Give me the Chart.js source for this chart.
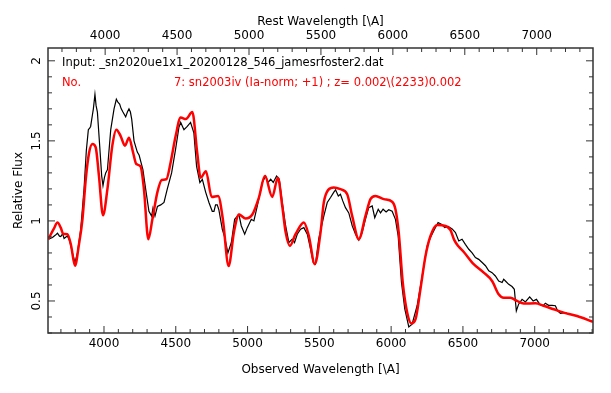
<!DOCTYPE html>
<html>
<head>
<meta charset="utf-8">
<script src="https://cdn.jsdelivr.net/npm/chart.js@4.4.1/dist/chart.umd.min.js"></script>
<style>
html, body { margin: 0; padding: 0; background: #fff; }
</style>
</head>
<body>
<canvas id="myChart" width="611" height="393"></canvas>
<script>
// SNID style comparison: input spectrum (black) vs template sn2003iv (red)
var redshift = 0.002;
var obsMin = 3610, obsMax = 7406;
var fluxMin = 0.3, fluxMax = 2.08;

var xTickValues = [4000, 4500, 5000, 5500, 6000, 6500, 7000];
var yTickValues = [0.5, 1, 1.5, 2];
var yTickLabels = ["0.5", "1", "1.5", "2"];

var inputLabel = "Input: _sn2020ue1x1_20200128_546_jamesrfoster2.dat";
var matchNo = "No.";
var matchLabel = "7: sn2003iv (Ia-norm; +1) ; z= 0.002\\(2233)0.002";

// input spectrum, observed wavelength
var inputWave = [3613,3641,3660,3676,3690,3699,3712,3722,3735,3745,3761,3780,3798,3815,3838,3861,3877,3891,3900,3907,3919,3926,3937,3945,3954,3970,3984,3993,4003,4012,4024,4047,4070,4086,4098,4109,4120,4132,4151,4163,4174,4184,4193,4209,4232,4245,4255,4271,4290,4313,4332,4341,4355,4372,4395,4418,4441,4471,4499,4522,4534,4557,4580,4603,4626,4645,4668,4685,4708,4731,4754,4766,4777,4789,4800,4824,4840,4863,4887,4910,4940,4956,4980,4998,5026,5044,5068,5103,5126,5142,5161,5179,5202,5221,5242,5265,5288,5311,5327,5346,5369,5392,5416,5434,5458,5473,5496,5531,5555,5578,5601,5613,5632,5647,5663,5682,5705,5729,5752,5775,5798,5821,5844,5868,5886,5910,5926,5944,5965,5983,6007,6030,6049,6072,6095,6123,6146,6181,6216,6251,6274,6297,6327,6350,6373,6397,6425,6448,6471,6494,6517,6541,6564,6587,6610,6634,6657,6680,6703,6726,6749,6773,6784,6796,6819,6842,6858,6872,6888,6912,6935,6965,6989,7012,7035,7058,7074,7097,7121,7144,7160,7179,7214,7230];
var inputFlux = [0.886,0.896,0.91,0.923,0.905,0.902,0.92,0.89,0.90,0.906,0.875,0.80,0.74,0.80,0.948,1.2,1.44,1.57,1.58,1.59,1.66,1.70,1.79,1.72,1.68,1.47,1.28,1.22,1.27,1.30,1.32,1.57,1.70,1.76,1.74,1.73,1.70,1.68,1.65,1.68,1.70,1.68,1.636,1.5,1.43,1.41,1.375,1.32,1.2,1.06,1.03,1.08,1.03,1.09,1.10,1.115,1.2,1.30,1.45,1.585,1.615,1.57,1.59,1.615,1.55,1.34,1.24,1.26,1.18,1.115,1.06,1.06,1.10,1.10,1.07,0.948,0.90,0.80,0.865,1.01,1.04,0.97,0.917,0.958,1.01,1.0,1.094,1.24,1.28,1.24,1.26,1.24,1.28,1.26,1.115,0.97,0.865,0.886,0.865,0.917,0.948,0.958,0.917,0.844,0.74,0.73,0.89,1.03,1.115,1.146,1.18,1.194,1.156,1.167,1.125,1.083,1.05,0.97,0.917,0.88,0.927,1.01,1.083,1.094,1.02,1.073,1.05,1.073,1.056,1.07,1.06,1.01,0.906,0.615,0.45,0.338,0.355,0.47,0.656,0.844,0.896,0.938,0.99,0.98,0.958,0.965,0.95,0.927,0.875,0.886,0.854,0.823,0.80,0.771,0.76,0.74,0.72,0.688,0.677,0.656,0.625,0.615,0.636,0.625,0.604,0.59,0.573,0.438,0.48,0.51,0.494,0.525,0.50,0.51,0.48,0.47,0.486,0.473,0.473,0.47,0.438,0.423,0.427,0.42];

// template spectrum
var tmplWave = [3612,3650,3676,3700,3715,3745,3770,3798,3825,3850,3873,3895,3919,3942,3965,3993,4024,4058,4086,4116,4146,4174,4202,4225,4255,4278,4309,4337,4372,4402,4434,4464,4499,4534,4570,4615,4650,4673,4710,4750,4795,4828,4868,4905,4940,4986,5033,5079,5121,5172,5211,5242,5265,5295,5334,5392,5427,5468,5508,5531,5562,5601,5647,5694,5729,5775,5821,5856,5891,5949,6007,6030,6053,6081,6112,6142,6170,6204,6239,6274,6320,6355,6412,6440,6470,6506,6575,6645,6703,6749,6784,6831,6877,6923,7005,7062,7132,7202,7295,7406];
var tmplFlux = [0.886,0.95,0.99,0.955,0.92,0.917,0.85,0.72,0.85,1.01,1.26,1.42,1.48,1.46,1.28,1.035,1.2,1.47,1.57,1.53,1.47,1.52,1.43,1.355,1.34,1.2,0.886,1.01,1.18,1.256,1.26,1.365,1.53,1.646,1.636,1.68,1.42,1.27,1.31,1.15,1.156,1.01,0.718,0.93,1.04,1.015,1.04,1.146,1.28,1.15,1.27,1.09,0.93,0.844,0.917,0.99,0.906,0.73,0.927,1.115,1.194,1.209,1.198,1.167,1.03,0.886,1.03,1.136,1.156,1.136,1.12,1.073,0.927,0.615,0.427,0.36,0.386,0.573,0.78,0.906,0.975,0.973,0.945,0.88,0.84,0.806,0.73,0.677,0.625,0.542,0.52,0.52,0.5,0.484,0.486,0.47,0.448,0.427,0.406,0.37];

function toPoints(xs, ys) {
    var pts = [];
    for (var i = 0; i < xs.length; i++) pts.push({x: xs[i], y: ys[i]});
    return pts;
}

function fixedTicks(s) {
    s.ticks = xTickValues.map(function(v) { return {value: v}; });
}

var FONT = "'DejaVu Sans', sans-serif";

// frame with inward ticks on all sides, rotated y labels, header text
var framePlugin = {
    id: 'frame',
    afterDraw: function(chart) {
        var ctx = chart.ctx, a = chart.chartArea;
        var sx = chart.scales.x, st = chart.scales.x2, sy = chart.scales.y;
        ctx.save();
        ctx.strokeStyle = '#333';
        ctx.lineWidth = 1;
        ctx.beginPath();
        var w, p, len;
        for (w = 3700; w <= obsMax; w += 100) {
            p = sx.getPixelForValue(w);
            len = (w % 500 === 0) ? 7 : 4;
            ctx.moveTo(p, a.bottom); ctx.lineTo(p, a.bottom - len);
        }
        for (w = 3700; w <= obsMax / (1 + redshift); w += 100) {
            p = st.getPixelForValue(w);
            len = (w % 500 === 0) ? 7 : 4;
            ctx.moveTo(p, a.top); ctx.lineTo(p, a.top + len);
        }
        for (var k = 3; k <= 20; k++) {
            p = sy.getPixelForValue(k / 10);
            if (p < a.top) continue;
            len = (k % 5 === 0) ? 7 : 4;
            ctx.moveTo(a.left, p); ctx.lineTo(a.left + len, p);
            ctx.moveTo(a.right, p); ctx.lineTo(a.right - len, p);
        }
        ctx.stroke();
        ctx.lineWidth = 1.5;
        ctx.strokeRect(a.left, a.top, a.right - a.left, a.bottom - a.top);

        // y tick labels, rotated like the original
        ctx.fillStyle = '#000';
        ctx.font = "12px " + FONT;
        ctx.textAlign = 'center';
        ctx.textBaseline = 'middle';
        for (var i = 0; i < yTickValues.length; i++) {
            p = sy.getPixelForValue(yTickValues[i]);
            ctx.save();
            ctx.translate(37, p);
            ctx.rotate(-Math.PI / 2);
            ctx.fillText(yTickLabels[i], 0, 0);
            ctx.restore();
        }

        // header lines
        ctx.textAlign = 'left';
        ctx.font = "11.5px " + FONT;
        ctx.fillText(inputLabel, a.left + 14, 63);
        ctx.fillStyle = '#ff0000';
        ctx.fillText(matchNo, a.left + 14, 83);
        ctx.fillText(matchLabel, a.left + 126, 83);
        ctx.restore();
    }
};

new Chart(document.getElementById("myChart"), {
    type: "line",
    data: {
        datasets: [{
            label: "template",
            data: toPoints(tmplWave, tmplFlux),
            borderColor: "#ff0000",
            borderWidth: 2.5,
            pointRadius: 0,
            fill: false,
            cubicInterpolationMode: 'monotone'
        }, {
            label: "input",
            data: toPoints(inputWave, inputFlux),
            borderColor: "#000000",
            borderWidth: 1.2,
            pointRadius: 0,
            fill: false,
            tension: 0
        }]
    },
    options: {
        responsive: false,
        animation: false,
        devicePixelRatio: 1,
        layout: {padding: {right: 18}},
        plugins: {legend: {display: false}, tooltip: {enabled: false}},
        scales: {
            x: {
                type: 'linear', position: 'bottom',
                min: obsMin, max: obsMax,
                afterBuildTicks: fixedTicks,
                grid: {display: false, drawTicks: false},
                border: {display: false},
                ticks: {padding: 4, color: '#000', font: {family: FONT, size: 12},
                        callback: function(v) { return String(v); }},
                title: {display: true, text: "Observed Wavelength [\\A]", color: '#000',
                        font: {family: FONT, size: 12}, padding: {top: 0, bottom: 16}},
                afterFit: function(s) { s.height = 60; }
            },
            x2: {
                type: 'linear', position: 'top',
                min: obsMin / (1 + redshift), max: obsMax / (1 + redshift),
                afterBuildTicks: fixedTicks,
                grid: {display: false, drawTicks: false},
                border: {display: false},
                ticks: {padding: 5, color: '#000', font: {family: FONT, size: 12},
                        callback: function(v) { return String(v); }},
                title: {display: true, text: "Rest Wavelength [\\A]", color: '#000',
                        font: {family: FONT, size: 12}, padding: {top: 15, bottom: 0}},
                afterFit: function(s) { s.height = 48; }
            },
            y: {
                type: 'linear', min: fluxMin, max: fluxMax,
                grid: {display: false, drawTicks: false},
                border: {display: false},
                ticks: {display: false},
                title: {display: true, text: "Relative Flux", color: '#000',
                        font: {family: FONT, size: 12}, padding: {top: 12, bottom: 0}},
                afterFit: function(s) { s.width = 48; }
            }
        }
    },
    plugins: [framePlugin]
});
</script>
</body>
</html>
